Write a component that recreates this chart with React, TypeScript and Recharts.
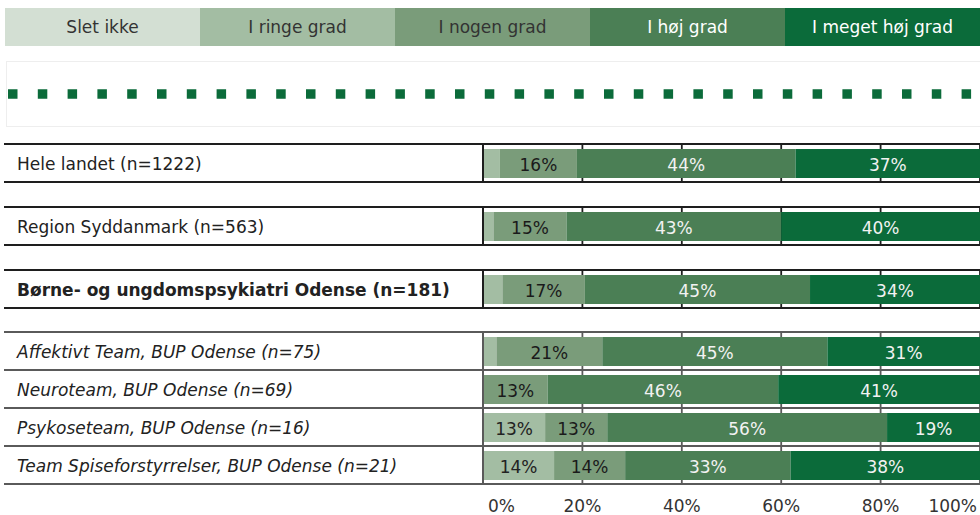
import React from 'react';
import { BarChart, Bar, XAxis, YAxis, CartesianGrid, LabelList } from 'recharts';

const categories = ['Slet ikke', 'I ringe grad', 'I nogen grad', 'I høj grad', 'I meget høj grad'];
const seriesColors = ['#d3dfd3', '#a3bda3', '#7a9c7a', '#4b7f55', '#0b6b3a'];
const seriesTextColors = ['#222222', '#222222', '#1a1a1a', '#f2f2f2', '#f2f2f2'];

const units = [
  'Hele landet (n=1222)',
  'Region Syddanmark (n=563)',
  'Børne- og ungdomspsykiatri Odense (n=181)',
  'Affektivt Team, BUP Odense (n=75)',
  'Neuroteam, BUP Odense (n=69)',
  'Psykoseteam, BUP Odense (n=16)',
  'Team Spiseforstyrrelser, BUP Odense (n=21)',
];
const levels = ['country', 'region', 'unit', 'team', 'team', 'team', 'team'];

const sletIkke = [0, 0, 0, 0, 0, 0, 0];
const iRingeGrad = [3.4, 2.1, 3.9, 2.7, 0, 12.5, 14.3];
const iNogenGrad = [15.5, 14.7, 16.6, 21.3, 13.0, 12.5, 14.3];
const iHoejGrad = [44.0, 43.2, 45.3, 45.3, 46.4, 56.3, 33.3];
const iMegetHoejGrad = [37.1, 40.0, 34.3, 30.7, 40.6, 18.8, 38.1];

const xTicks = [0, 20, 40, 60, 80, 100];

const seriesKeys = ['s0', 's1', 's2', 's3', 's4'];
const seriesValues = [sletIkke, iRingeGrad, iNogenGrad, iHoejGrad, iMegetHoejGrad];

const rows = units.map((name, i) => {
  const r: any = { name, level: levels[i] };
  seriesKeys.forEach((k, j) => {
    r[k] = seriesValues[j][i];
  });
  return r;
});

const FONT = '"DejaVu Sans", Verdana, sans-serif';
const CHART_W = 976;
const LABEL_W = 479;
const ROW_H = 36;

const RowLabel = (props: any) => {
  const { y, payload } = props;
  const idx = units.indexOf(payload.value);
  const level = levels[idx];
  return (
    <text
      x={13}
      y={y + 1}
      dominantBaseline="central"
      textAnchor="start"
      fontSize={17}
      fontFamily={FONT}
      fill="#222222"
      fontWeight={level === 'unit' ? 'bold' : 'normal'}
      fontStyle={level === 'team' ? 'italic' : 'normal'}
    >
      {payload.value}
    </text>
  );
};

const makeValueLabel = (color: string) => (props: any) => {
  const { x, y, width, height, value } = props;
  if (value == null || value < 5) return null;
  return (
    <text
      x={x + width / 2}
      y={y + height / 2 + 1}
      textAnchor="middle"
      dominantBaseline="central"
      fontSize={17}
      fontFamily={FONT}
      fill={color}
    >
      {Math.round(value) + '%'}
    </text>
  );
};

const AxisTick = (props: any) => {
  const { x, y, payload } = props;
  const v = payload.value;
  let anchor: 'start' | 'middle' | 'end' = 'middle';
  let dx = 0;
  if (v === 0) {
    anchor = 'start';
    dx = 5;
  } else if (v === 100) {
    anchor = 'end';
    dx = -3;
  }
  return (
    <text x={x + dx} y={y} textAnchor={anchor} dominantBaseline="central" fontSize={17} fontFamily={FONT} fill="#333333">
      {v + '%'}
    </text>
  );
};

const gridX = (p: any) => {
  const s = p && p.xAxis && p.xAxis.scale;
  if (s && typeof s === 'function') return xTicks.map((t) => s(t));
  if (s && typeof s.map === 'function') return xTicks.map((t) => s.map(t));
  return xTicks.map((t) => p.offset.left + (p.offset.width * t) / 100);
};

function Row({ row, lineColor, bottomBorder, marginTop }: any) {
  return (
    <div
      style={{
        marginLeft: 4,
        marginTop,
        width: CHART_W,
        borderTop: `2px solid ${lineColor}`,
        borderBottom: bottomBorder ? `2px solid ${lineColor}` : 'none',
      }}
    >
      <BarChart
        width={CHART_W}
        height={ROW_H}
        data={[row]}
        layout="vertical"
        margin={{ top: 0, right: 0, bottom: 0, left: 0 }}
        barSize={29}
      >
        <CartesianGrid
          horizontal={false}
          stroke={lineColor}
          strokeWidth={1.8}
          verticalCoordinatesGenerator={gridX}
        />
        <XAxis
          type="number"
          domain={[0, 100]}
          ticks={xTicks}
          interval={0}
          allowDataOverflow
          height={0}
          tick={false}
          axisLine={false}
          tickLine={false}
        />
        <YAxis
          type="category"
          dataKey="name"
          width={LABEL_W}
          tick={<RowLabel />}
          tickLine={false}
          axisLine={{ stroke: lineColor, strokeWidth: 2 }}
        />
        {seriesKeys.map((k, j) => (
          <Bar key={k} dataKey={k} name={categories[j]} stackId="a" fill={seriesColors[j]} isAnimationActive={false}>
            <LabelList dataKey={k} content={makeValueLabel(seriesTextColors[j])} />
          </Bar>
        ))}
      </BarChart>
    </div>
  );
}

export default function App() {
  const topRows = rows.filter((r) => r.level !== 'team');
  const teamRows = rows.filter((r) => r.level === 'team');
  return (
    <div
      style={{
        position: 'absolute',
        left: 0,
        top: 0,
        width: 980,
        height: 515,
        background: '#ffffff',
        fontFamily: FONT,
        overflow: 'hidden',
      }}
    >
      {/* Legend */}
      <div style={{ position: 'absolute', left: 5, top: 8, width: 975, height: 38, display: 'flex' }}>
        {categories.map((c, j) => (
          <div
            key={c}
            style={{
              flex: 1,
              background: seriesColors[j],
              color: j >= 3 ? '#ffffff' : '#333333',
              fontSize: 17,
              lineHeight: '38px',
              textAlign: 'center',
            }}
          >
            {c}
          </div>
        ))}
      </div>

      {/* Dotted band */}
      <div
        style={{
          position: 'absolute',
          left: 6,
          top: 61,
          width: 974,
          height: 64,
          borderTop: '1px solid #eeeeee',
          borderBottom: '1px solid #eeeeee',
          borderLeft: '1px solid #eeeeee',
        }}
      >
        <svg width={974} height={64} style={{ display: 'block' }}>
          <line x1={1} x2={974} y1={32} y2={32} stroke="#0b6b3a" strokeWidth={9.5} strokeDasharray="9.5 20.3" />
        </svg>
      </div>

      {/* Rows */}
      <div style={{ position: 'absolute', left: 0, top: 143 }}>
        {topRows.map((r, i) => (
          <Row key={r.name} row={r} lineColor="#1e1e1e" bottomBorder marginTop={i === 0 ? 0 : 23} />
        ))}
        {teamRows.map((r, i) => (
          <Row
            key={r.name}
            row={r}
            lineColor="#5a5a5a"
            bottomBorder={i === teamRows.length - 1}
            marginTop={i === 0 ? 22 : 0}
          />
        ))}
        <div style={{ marginLeft: 4 }}>
          <BarChart
            width={CHART_W}
            height={36}
            data={[rows[rows.length - 1]]}
            layout="vertical"
            margin={{ top: 0, right: 0, bottom: 0, left: 0 }}
          >
            <XAxis
              type="number"
              domain={[0, 100]}
              ticks={xTicks}
              interval={0}
              allowDataOverflow
              height={26}
              tickSize={0}
              tickMargin={11}
              axisLine={false}
              tickLine={false}
              tick={<AxisTick />}
            />
            <YAxis type="category" dataKey="name" width={LABEL_W} tick={false} axisLine={false} tickLine={false} />
          </BarChart>
        </div>
      </div>
    </div>
  );
}
